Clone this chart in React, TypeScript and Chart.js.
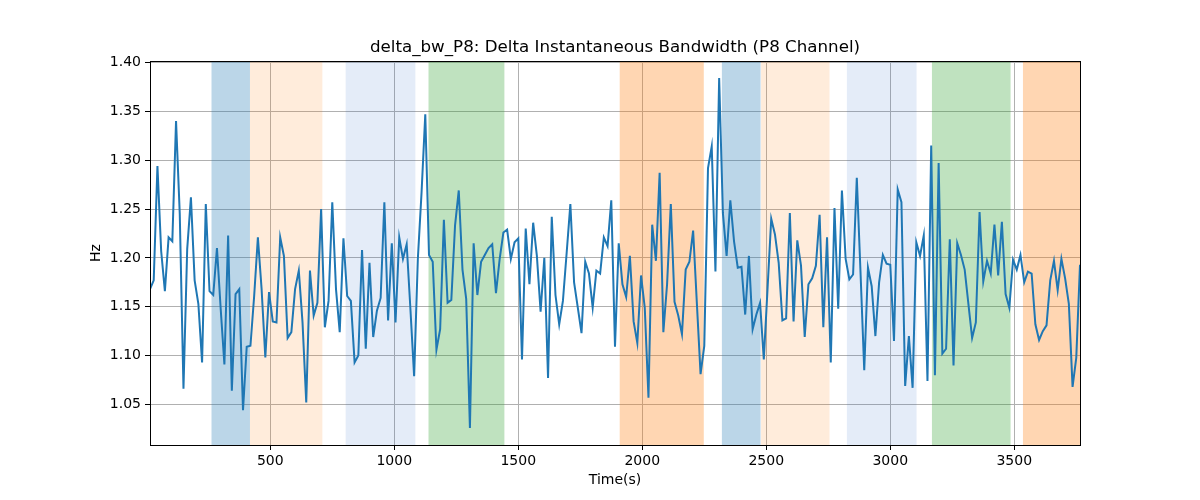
import React, { useEffect, useRef } from 'react';
import Chart from 'chart.js/auto';

// sample times (s): one sample every 15 s
const T0 = 15;
const DT = 15;

const bwValues: number[] = [
  1.168, 1.177, 1.294, 1.207, 1.166, 1.221, 1.217, 1.340, 1.245, 1.066,
  1.209, 1.262, 1.177, 1.153, 1.093, 1.255, 1.166, 1.162, 1.210, 1.148,
  1.091, 1.223, 1.064, 1.163, 1.168, 1.044, 1.109, 1.110, 1.161, 1.221,
  1.168, 1.098, 1.165,
  1.135, 1.134, 1.221, 1.202, 1.118, 1.124, 1.168, 1.187, 1.134, 1.052,
  1.187, 1.141, 1.154, 1.250, 1.129, 1.156, 1.257, 1.168, 1.124, 1.220,
  1.161, 1.156, 1.093, 1.100, 1.208, 1.107, 1.195, 1.119, 1.146, 1.159,
  1.257, 1.136,
  1.215, 1.134, 1.221, 1.199, 1.214, 1.148, 1.079, 1.199, 1.267, 1.347,
  1.203, 1.196, 1.106, 1.127, 1.239, 1.154, 1.157, 1.233, 1.269, 1.188,
  1.158, 1.026, 1.215, 1.162, 1.196, 1.203, 1.210, 1.214, 1.164, 1.199,
  1.226, 1.229, 1.199,
  1.216, 1.220, 1.096, 1.230, 1.173, 1.236, 1.202, 1.145, 1.200, 1.077,
  1.242, 1.162, 1.132, 1.156, 1.205, 1.255, 1.175, 1.149, 1.123, 1.196,
  1.184, 1.149, 1.187, 1.184, 1.221, 1.212, 1.259, 1.109, 1.215, 1.173,
  1.160, 1.202,
  1.135, 1.113, 1.182, 1.149, 1.057, 1.234, 1.197, 1.287, 1.124, 1.173,
  1.255, 1.155, 1.141, 1.122, 1.188, 1.196, 1.228, 1.154, 1.081, 1.110,
  1.292, 1.314, 1.186, 1.384, 1.246, 1.202, 1.259, 1.217, 1.190, 1.191,
  1.142, 1.202,
  1.127, 1.142, 1.154, 1.096, 1.168, 1.240, 1.224, 1.195, 1.136, 1.138,
  1.246, 1.135, 1.218, 1.192, 1.119, 1.173, 1.179, 1.192, 1.244, 1.129,
  1.221, 1.093, 1.251, 1.148, 1.269, 1.199, 1.178, 1.183, 1.282, 1.185,
  1.085, 1.190,
  1.171, 1.120, 1.175, 1.203, 1.194, 1.193, 1.115, 1.270, 1.257, 1.069,
  1.120, 1.067, 1.216, 1.202, 1.223, 1.074, 1.315, 1.080, 1.297, 1.102,
  1.107, 1.219, 1.090, 1.215, 1.203, 1.188, 1.153, 1.118, 1.134, 1.247,
  1.176, 1.197, 1.184,
  1.234, 1.182, 1.237, 1.163, 1.149, 1.198, 1.188, 1.203, 1.175, 1.186,
  1.184, 1.132, 1.116, 1.125, 1.131, 1.177, 1.197, 1.167, 1.199, 1.179,
  1.153, 1.068, 1.098, 1.193,
];

// shaded intervals (s)
const regionStart = [263, 418, 804, 1138, 1909, 2321, 2479, 2825, 3168, 3535];
const regionEnd = [418, 710, 1085, 1444, 2248, 2477, 2755, 3106, 3485, 3765];
const regionColor = [
  'rgba(31,119,180,0.3)',
  'rgba(255,127,14,0.15)',
  'rgba(31,100,200,0.12)',
  'rgba(44,160,44,0.3)',
  'rgba(255,127,14,0.32)',
  'rgba(31,119,180,0.3)',
  'rgba(255,127,14,0.15)',
  'rgba(31,100,200,0.12)',
  'rgba(44,160,44,0.3)',
  'rgba(255,127,14,0.32)',
];

const xTicks = [500, 1000, 1500, 2000, 2500, 3000, 3500];
const yTicks = [1.05, 1.1, 1.15, 1.2, 1.25, 1.3, 1.35, 1.4];

const TITLE = 'delta_bw_P8: Delta Instantaneous Bandwidth (P8 Channel)';
const FONT = '"DejaVu Sans", sans-serif';

const App: React.FC = () => {
  const canvasRef = useRef<HTMLCanvasElement>(null);
  const chartRef = useRef<Chart | null>(null);

  useEffect(() => {
    if (!canvasRef.current) return;
    const points = bwValues.map((v, i) => ({ x: T0 + i * DT, y: v }));
    const xMax = T0 + (bwValues.length - 1) * DT;

    const decor = {
      id: 'decor',
      beforeDatasetsDraw(chart: any) {
        const { ctx, chartArea, scales } = chart;
        ctx.save();
        regionStart.forEach((s, i) => {
          const x1 = Math.max(scales.x.getPixelForValue(s), chartArea.left);
          const x2 = Math.min(scales.x.getPixelForValue(regionEnd[i]), chartArea.right);
          ctx.fillStyle = regionColor[i];
          ctx.fillRect(x1, chartArea.top, x2 - x1, chartArea.bottom - chartArea.top);
        });
        ctx.restore();
      },
      afterDraw(chart: any) {
        const { ctx, chartArea } = chart;
        ctx.save();
        ctx.strokeStyle = '#000';
        ctx.lineWidth = 1;
        ctx.strokeRect(
          Math.round(chartArea.left) + 0.5,
          Math.round(chartArea.top) + 0.5,
          Math.round(chartArea.right - chartArea.left),
          Math.round(chartArea.bottom - chartArea.top)
        );
        ctx.fillStyle = '#000';
        ctx.font = `16.7px ${FONT}`;
        ctx.textAlign = 'center';
        ctx.textBaseline = 'alphabetic';
        ctx.fillText(TITLE, (chartArea.left + chartArea.right) / 2, chartArea.top - 9);
        ctx.restore();
      },
    };

    chartRef.current = new Chart(canvasRef.current, {
      type: 'line',
      data: {
        datasets: [{
          data: points,
          borderColor: '#1f77b4',
          borderWidth: 2,
          pointRadius: 0,
          tension: 0,
          fill: false,
        }],
      },
      options: {
        animation: false,
        responsive: true,
        maintainAspectRatio: false,
        layout: { padding: { left: 85, right: 120, top: 61, bottom: 5 } },
        plugins: {
          legend: { display: false },
          title: { display: false },
          tooltip: { enabled: false },
        },
        scales: {
          x: {
            type: 'linear',
            min: T0,
            max: xMax,
            afterFit: (s: any) => { s.height = 50; },
            afterBuildTicks: (axis: any) => { axis.ticks = xTicks.map((value) => ({ value })); },
            grid: { color: '#b0b0b0', lineWidth: 1, tickColor: '#000', tickLength: 5 },
            border: { display: false },
            ticks: {
              color: '#000',
              font: { family: FONT, size: 14 },
              padding: 3,
              maxRotation: 0,
              callback: (v: any) => String(v),
            },
            title: {
              display: true,
              text: 'Time(s)',
              color: '#000',
              font: { family: FONT, size: 14 },
              padding: { top: 0, bottom: 6 },
            },
          },
          y: {
            type: 'linear',
            min: 1.0085,
            max: 1.4015,
            afterFit: (s: any) => { s.width = 65; },
            afterBuildTicks: (axis: any) => { axis.ticks = yTicks.map((value) => ({ value })); },
            grid: { color: '#b0b0b0', lineWidth: 1, tickColor: '#000', tickLength: 5 },
            border: { display: false },
            ticks: {
              color: '#000',
              font: { family: FONT, size: 14 },
              padding: 4,
              callback: (v: any) => Number(v).toFixed(2),
            },
            title: {
              display: true,
              text: 'Hz',
              color: '#000',
              font: { family: FONT, size: 14 },
              padding: { top: 3, bottom: 0 },
            },
          },
        },
      },
      plugins: [decor],
    });

    return () => {
      if (chartRef.current) {
        chartRef.current.destroy();
        chartRef.current = null;
      }
    };
  }, []);

  return (
    <div style={{ position: 'absolute', left: 0, top: 0, width: 1200, height: 500, background: '#fff' }}>
      <canvas ref={canvasRef} />
    </div>
  );
};

export default App;
